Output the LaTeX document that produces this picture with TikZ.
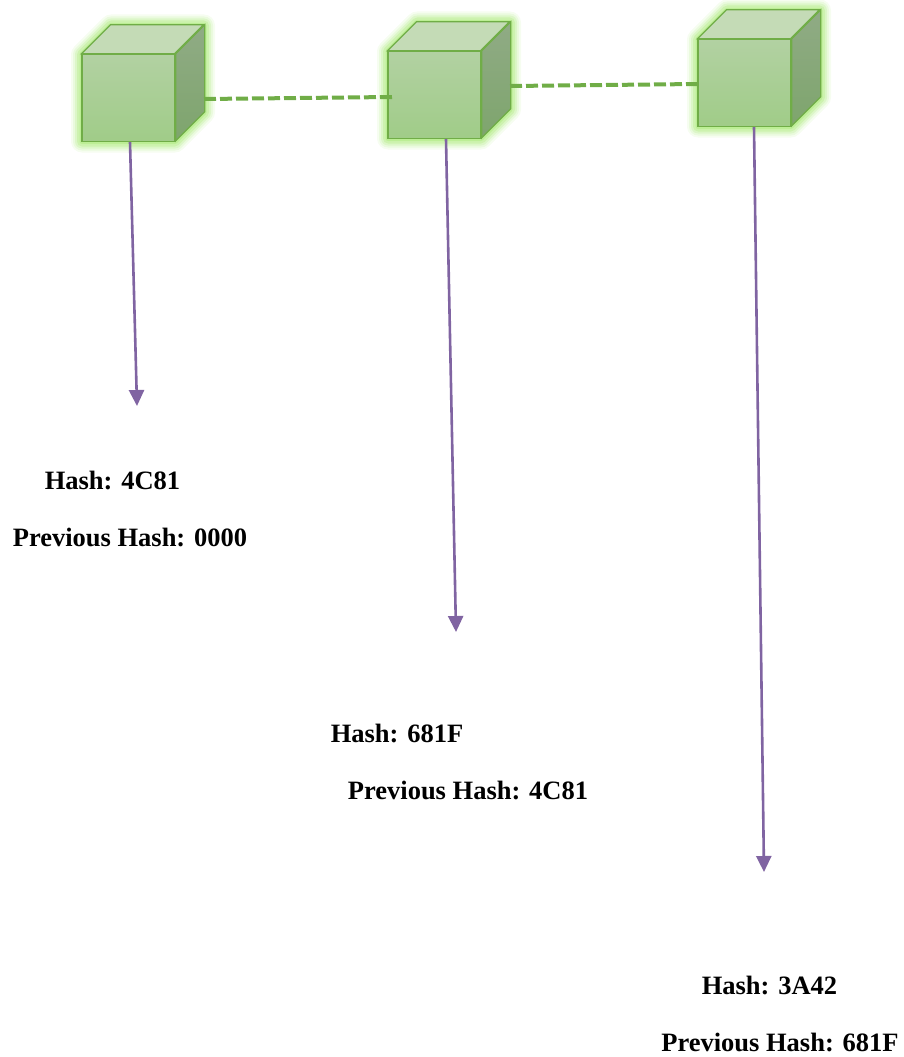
\documentclass[tikz,border=0pt]{standalone}
\usepackage{fontspec}
\setmainfont{Liberation Serif}
\usetikzlibrary{arrows.meta, calc, positioning}
\definecolor{cubeline}{HTML}{70AD47}
\definecolor{glowgreen}{HTML}{A4E86E}
\definecolor{arrowpurple}{HTML}{8064A2}
\definecolor{fronttop}{HTML}{B2D1A2}
\definecolor{frontbottom}{HTML}{A0CC88}
\definecolor{topface}{HTML}{C4DBB6}
\definecolor{sidetop}{HTML}{90AB85}
\definecolor{sidebottom}{HTML}{7EA56D}
\tikzstyle{front} = [rectangle, draw=cubeline, line width=1.3pt, minimum width=93pt, minimum height=87pt, inner sep=0pt, shading=axis, top color=fronttop, bottom color=frontbottom]
\tikzstyle{label} = [font=\fontsize{26.5}{30}\selectfont\bfseries, inner sep=0pt, anchor=base]
\tikzstyle{arrow} = [line width=2.6pt, arrowpurple, -{Triangle[length=16pt,width=15pt]}]
\tikzstyle{link} = [line width=4pt, cubeline, dash pattern=on 12pt off 4pt]
% front face at (#2), side and top faces hang off its corners
\newcommand{\cubeblock}[2]{
	\foreach \w/\o in {22/0.10, 18/0.14, 14/0.20, 10/0.28, 5/0.40} {
		\fill [glowgreen, opacity=\o, draw=glowgreen, line width=\w pt, line join=round]
			($(#2)+(-46.5,43.5)$) -- ++(0,-87) -- ++(29,-29) -- ++(93,0) -- ++(0,87) -- ++(-29,29) -- cycle;
	}
	\node (#1) [front] at (#2) {};
	\draw [draw=cubeline, line width=1.3pt, fill=topface] (#1.north west) -- ++(29,-29) -- ++(93,0) -- ++(-29,29) -- cycle;
	\draw [draw=cubeline, line width=1.3pt, top color=sidetop, bottom color=sidebottom, shading=axis] (#1.north east) -- ++(29,-29) -- ++(0,87) -- ++(-29,29) -- cycle;
}
\begin{document}
\begin{tikzpicture}[x=1pt, y=-1pt]
	\useasboundingbox (0,0) rectangle (903,1057);
	\cubeblock{CubeOne}{128.5,98}
	\cubeblock{CubeTwo}{434.5,95}
	\cubeblock{CubeThree}{744.5,83}
	% free ends of the connectors
	\coordinate (LinkOneStart) at (204,99);
	\coordinate (LinkOneEnd) at (392,97);
	\coordinate (LinkTwoStart) at (510,86);
	\coordinate (LinkTwoEnd) at (698,84);
	\coordinate (TipOne) at (137,406);
	\coordinate (TipTwo) at (456,632);
	\coordinate (TipThree) at (764,872);
	\node (HashOne) [label] at (112.5,489.5) {Hash: 4C81};
	\node (PrevOne) [label] at (130,546.5) {Previous Hash: 0000};
	\node (HashTwo) [label] at (397,742.5) {Hash: 681F};
	\node (PrevTwo) [label] at (468,799.5) {Previous Hash: 4C81};
	\node (HashThree) [label] at (769.5,994.5) {Hash: 3A42};
	\node (PrevThree) [label] at (780,1051.5) {Previous Hash: 681F};
	\draw [link] (LinkOneStart) -- (LinkOneEnd);
	\draw [link] (LinkTwoStart) -- (LinkTwoEnd);
	\draw [arrow] (CubeOne.south -| 130,0) -- (TipOne);
	\draw [arrow] (CubeTwo.south -| 446,0) -- (TipTwo);
	\draw [arrow] (CubeThree.south -| 754,0) -- (TipThree);
\end{tikzpicture}
\end{document}
